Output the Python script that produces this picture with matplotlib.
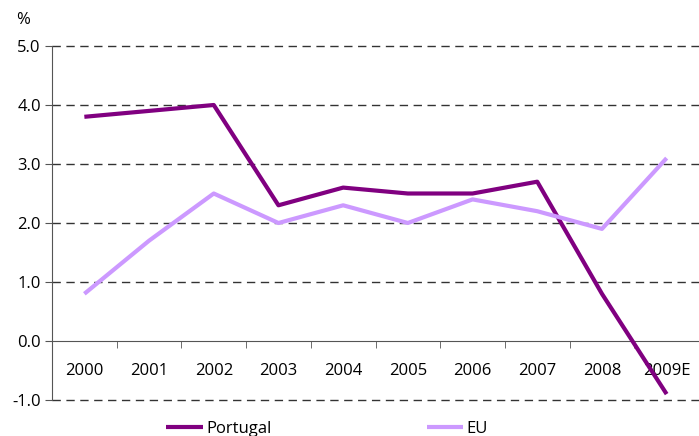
import matplotlib
matplotlib.use("Agg")
import matplotlib.pyplot as plt
import numpy as np

years = ["2000", "2001", "2002", "2003", "2004", "2005", "2006", "2007", "2008", "2009E"]
portugal = [3.8, 3.9, 4.0, 2.3, 2.6, 2.5, 2.5, 2.7, 0.8, -0.9]
eu = [0.8, 1.7, 2.5, 2.0, 2.3, 2.0, 2.4, 2.2, 1.9, 3.1]
yticks = [-1.0, 0.0, 1.0, 2.0, 3.0, 4.0, 5.0]

plt.rcParams['font.family'] = ['Open Sans', 'DejaVu Sans']

fig = plt.figure(figsize=(6.99, 4.36), dpi=100)
ax = fig.add_axes([52/699, 36/436, 647/699, 354/436])

x = np.arange(len(years))
lp, = ax.plot(x, portugal, color='#800080', lw=3.0, solid_capstyle='butt', zorder=3)
le, = ax.plot(x, eu, color='#CC99FF', lw=3.0, solid_capstyle='butt', zorder=3)

ax.set_xlim(-0.5, len(years) - 0.5)
ax.set_ylim(-1.0, 5.0)
ax.set_yticks(yticks)
ax.set_yticklabels([f"{v:.1f}" for v in yticks], fontsize=12)

for v in yticks:
    if v != 0.0:
        ax.axhline(v, color='#333333', lw=1.0, ls=(0, (6, 4)), zorder=1, clip_on=False)

ax.spines['top'].set_visible(False)
ax.spines['right'].set_visible(False)
ax.spines['bottom'].set_position(('data', 0))
ax.spines['bottom'].set_color('#555555')
ax.spines['left'].set_color('#555555')
ax.spines['bottom'].set_zorder(2)

ax.set_xticks(x)
ax.set_xticklabels(years, fontsize=12)
ax.tick_params(axis='x', which='major', length=0, pad=16)
ax.set_xticks(np.arange(0.5, len(years) - 0.5, 1.0), minor=True)
ax.tick_params(axis='x', which='minor', length=5, direction='out', color='#555555')
ax.tick_params(axis='y', length=5, direction='out', color='#555555', pad=3)

fig.text(16/699, 1 - 20/436, "%", fontsize=12, va='center', ha='left')

fig.legend([lp, le], ["Portugal", "EU"], loc='center', ncol=2,
           bbox_to_anchor=(327/699, 1 - 429/436), frameon=False, fontsize=12,
           handlelength=2.2, handletextpad=0.2, columnspacing=9.3)

fig.savefig("out.png", dpi=100)
